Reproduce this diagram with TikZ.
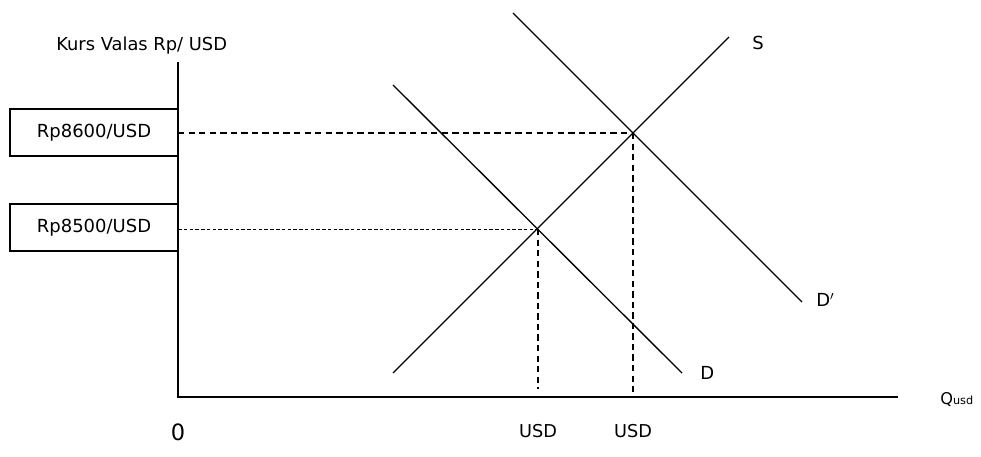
\documentclass[tikz,border=0pt]{standalone}
\usepackage{fontspec}
\setmainfont{DejaVu Sans}
\usetikzlibrary{positioning,calc}
\tikzset{
  axisline/.style={line width=1.3pt,draw=black},
  curve/.style={line width=0.95pt,draw=black},
  guide/.style={line width=1pt,dash pattern=on 4.5pt off 3pt},
  fineguide/.style={line width=0.65pt,dash pattern=on 2.5pt off 1.6pt},
  pricebox/.style={draw=black,line width=0.9pt,minimum width=4.2cm,
    minimum height=1.175cm,inner sep=0pt,font=\fontsize{12.8}{15}\selectfont},
  lbl/.style={inner sep=0pt,font=\fontsize{12.8}{15}\selectfont}
}
\begin{document}
\begin{tikzpicture}[x=0.025cm,y=-0.025cm]
  \useasboundingbox (0,0) rectangle (981,457);
  % axes
  \coordinate (origin) at (178,397);
  \coordinate (ytop) at (178,62);
  \coordinate (xend) at (898,397);
  \draw[axisline] (ytop) -- (origin) -- (xend);
  \node[inner sep=0pt,anchor=west,font=\fontsize{12.7}{15}\selectfont] (ylabel) at (56,46) {Kurs Valas Rp/ USD};
  \node[inner sep=0pt,anchor=west,font=\fontsize{11.5}{14}\selectfont] (xlabel) at (940,400) {Q{\fontsize{8}{10}\selectfont usd}};
  % price boxes
  \node[pricebox] (p8600) at (94,132.5) {Rp8600/USD};
  \node[pricebox] (p8500) at (94,227.5) {Rp8500/USD};
  % curves
  \coordinate (s1) at (393,373);
  \coordinate (s2) at (729,37);
  \coordinate (d1) at (393,85);
  \coordinate (d2) at (682,373);
  \coordinate (dd1) at (513,13);
  \coordinate (dd2) at (802,302);
  \draw[curve] (s1) -- (s2);
  \draw[curve] (d1) -- (d2);
  \draw[curve] (dd1) -- (dd2);
  \node[lbl,anchor=west] (slabel) at (752,43) {S};
  \node[lbl,anchor=west] (dlabel) at (700,373) {D};
  \node[lbl,anchor=west] (ddlabel) at (816,300) {D$'$};
  % equilibria
  \coordinate (e1) at (538,229);
  \coordinate (e2) at (633,133);
  \draw[fineguide] (origin |- e1) -- (e1);
  \draw[guide] (origin |- e2) -- (e2);
  \draw[guide] (e1) -- ($(e1 |- origin)+(0,-8)$);
  \draw[guide] (e2) -- ($(e2 |- origin)+(0,-5)$);
  % quantity labels
  \node[lbl,font=\fontsize{16}{18}\selectfont] (zero) at (178,432) {0};
  \node[lbl,font=\fontsize{12.6}{15}\selectfont] (q1) at (538,431) {USD};
  \node[lbl,font=\fontsize{12.6}{15}\selectfont] (q2) at (633,431) {USD};
\end{tikzpicture}
\end{document}
